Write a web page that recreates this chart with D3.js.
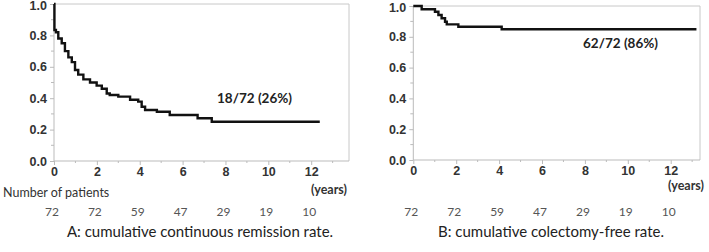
<!DOCTYPE html>
<html>
<head>
<meta charset="utf-8">
<script src="https://cdn.jsdelivr.net/npm/d3@7"></script>
<style>
  body { margin: 0; background: #fff; }
  svg { display: block; font-family: "Lato", "Open Sans", sans-serif; }
</style>
</head>
<body>
<div id="chart"></div>
<script>
// A: cumulative continuous remission (step after each time)
var timeA = [0, 0.02, 0.09, 0.2, 0.36, 0.51, 0.67, 0.83, 0.98, 1.13, 1.37, 1.68, 1.99, 2.23, 2.46, 2.6, 3.0, 3.55, 3.93, 4.09, 4.25, 4.8, 5.4, 6.7, 7.36, 12.4];
var survA = [1.0, 0.834, 0.82, 0.78, 0.75, 0.70, 0.66, 0.63, 0.58, 0.55, 0.52, 0.50, 0.48, 0.46, 0.43, 0.42, 0.41, 0.39, 0.378, 0.346, 0.325, 0.314, 0.293, 0.272, 0.25, 0.25];
// B: cumulative colectomy-free
var timeB = [0, 0.39, 1.01, 1.17, 1.32, 1.48, 1.56, 2.1, 4.12, 13.2];
var survB = [1.0, 0.979, 0.963, 0.942, 0.92, 0.898, 0.881, 0.865, 0.849, 0.849];

var xTicks = [0, 2, 4, 6, 8, 10, 12];
var yTicks = [0, 0.2, 0.4, 0.6, 0.8, 1.0];
var atRisk = [72, 72, 59, 47, 29, 19, 10];
var panelTitles = ["A: cumulative continuous remission rate.", "B: cumulative colectomy-free rate."];
var notes = ["18/72 (26%)", "62/72 (86%)"];

var width = 709, height = 252;
var svg = d3.select("#chart").append("svg")
    .attr("width", width).attr("height", height);

var panels = [
  { times: timeA, surv: survA, x0: 54, x12: 311.2, right: 349, top: 4, bottom: 161,
    note: notes[0], noteX: 217, noteY: 103, title: panelTitles[0], titleX: 200,
    yearsX: 347, yearsY: 194, risk: true },
  { times: timeB, surv: survB, x0: 413.3, x12: 670.7, right: 700, top: 6, bottom: 160,
    note: notes[1], noteX: 583, noteY: 48, title: panelTitles[1], titleX: 551,
    yearsX: 704, yearsY: 190, risk: false }
];

panels.forEach(function(p) {
  var x = d3.scaleLinear().domain([0, 12]).range([p.x0, p.x12]);
  var y = d3.scaleLinear().domain([0, 1]).range([p.bottom, p.top]);
  var g = svg.append("g");

  // box top and right
  g.append("path")
    .attr("d", "M" + p.x0 + "," + p.top + "H" + p.right + "V" + p.bottom)
    .attr("fill", "none").attr("stroke", "#c8c8c8").attr("stroke-width", 1);

  // minor ticks
  g.selectAll(".ymin").data(d3.range(0.1, 1, 0.2)).enter().append("line")
    .attr("x1", p.x0 - 3).attr("x2", p.x0)
    .attr("y1", function(d) { return y(d); }).attr("y2", function(d) { return y(d); })
    .attr("stroke", "#bbb");
  g.selectAll(".xmin").data(d3.range(1, 14, 2)).enter().append("line")
    .attr("x1", function(d) { return x(d); }).attr("x2", function(d) { return x(d); })
    .attr("y1", p.bottom).attr("y2", p.bottom + 2)
    .attr("stroke", "#bbb");

  var yAxis = d3.axisLeft(y).tickValues(yTicks).tickFormat(d3.format(".1f")).tickSize(4).tickPadding(3);
  var ya = g.append("g").attr("transform", "translate(" + p.x0 + ",0)").call(yAxis);
  var xAxis = d3.axisBottom(x).tickValues(xTicks).tickSize(4).tickPadding(2);
  var xa = g.append("g").attr("transform", "translate(0," + p.bottom + ")").call(xAxis);
  [ya, xa].forEach(function(a) {
    a.select(".domain").attr("stroke", "#bbb");
    a.selectAll(".tick line").attr("stroke", "#bbb");
    a.selectAll(".tick text").attr("fill", "#333").style("font-size", "12.5px").style("font-weight", "bold");
  });
  ya.select(".domain").attr("d", "M0," + p.bottom + "V" + p.top);
  xa.select(".domain").attr("d", "M" + p.x0 + ",0H" + p.right);
  // keep the top label inside the picture
  ya.selectAll(".tick text").filter(function(d) { return d === 1; }).attr("dy", "0.45em");

  // survival curve
  var line = d3.line().curve(d3.curveStepAfter)
    .x(function(d, i) { return x(p.times[i]); })
    .y(function(d) { return y(d); });
  g.append("path").datum(p.surv)
    .attr("d", line)
    .attr("fill", "none").attr("stroke", "#111").attr("stroke-width", 2.4);

  g.append("text").attr("x", p.noteX).attr("y", p.noteY)
    .attr("fill", "#222").style("font-size", "13.5px").style("font-weight", "bold")
    .text(p.note);

  g.append("text").attr("x", p.yearsX).attr("y", p.yearsY).attr("text-anchor", "end")
    .attr("fill", "#333").style("font-size", "12.5px").style("font-weight", "bold")
    .text("(years)");

  if (p.risk) {
    g.append("text").attr("x", 3).attr("y", 197)
      .attr("fill", "#333").style("font-size", "12.5px")
      .text("Number of patients");
  }
  g.selectAll(".risk").data(atRisk).enter().append("text")
    .attr("x", function(d, i) { return x(xTicks[i]) - 2; })
    .attr("y", 216).attr("text-anchor", "middle")
    .attr("fill", "#555").style("font-size", "12px")
    .text(function(d) { return d; });

  g.append("text").attr("x", p.titleX).attr("y", 237).attr("text-anchor", "middle")
    .attr("fill", "#222").style("font-size", "15px")
    .text(p.title);
});
</script>
</body>
</html>
